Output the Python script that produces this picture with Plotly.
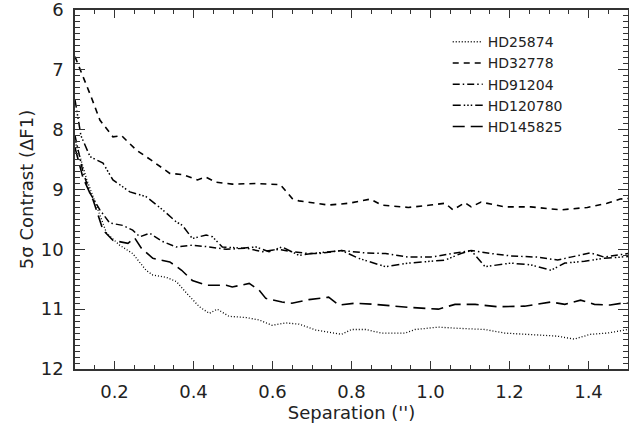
import plotly.graph_objects as go

# ---- data ----
names = ["HD25874", "HD32778", "HD91204", "HD120780", "HD145825"]

x_hd25874 = [0.1, 0.115, 0.13, 0.155, 0.18, 0.213, 0.246, 0.28, 0.297, 0.332, 0.357, 0.382, 0.415, 0.44, 0.46,
             0.49, 0.533, 0.566, 0.599, 0.634, 0.667, 0.71, 0.775, 0.8, 0.836, 0.876, 0.936, 0.961, 1.02, 1.07,
             1.138, 1.188, 1.254, 1.32, 1.364, 1.405, 1.448, 1.485, 1.5]
y_hd25874 = [8.2, 8.5, 8.84, 9.29, 9.73, 9.93, 10.07, 10.35, 10.43, 10.47, 10.54, 10.73, 10.96, 11.07, 11.0,
             11.12, 11.14, 11.18, 11.27, 11.23, 11.25, 11.35, 11.42, 11.34, 11.34, 11.4, 11.4, 11.34, 11.3, 11.32,
             11.34, 11.4, 11.42, 11.45, 11.5, 11.42, 11.4, 11.35, 11.34]

x_hd32778 = [0.1, 0.121, 0.142, 0.163, 0.196, 0.218, 0.255, 0.293, 0.34, 0.372, 0.41, 0.43, 0.458, 0.498, 0.558,
             0.62, 0.65, 0.667, 0.742, 0.793, 0.848, 0.876, 0.944, 1.0, 1.037, 1.057, 1.087, 1.103, 1.128, 1.188,
             1.254, 1.33, 1.397, 1.447, 1.48, 1.5]
y_hd32778 = [6.78, 7.11, 7.47, 7.84, 8.12, 8.1, 8.34, 8.51, 8.73, 8.75, 8.84, 8.79, 8.88, 8.91, 8.9,
             8.92, 9.15, 9.19, 9.26, 9.23, 9.16, 9.26, 9.3, 9.26, 9.23, 9.34, 9.22, 9.29, 9.21, 9.29,
             9.29, 9.34, 9.3, 9.23, 9.16, 9.15]

x_hd91204 = [0.1, 0.12, 0.138, 0.163, 0.188, 0.221, 0.246, 0.264, 0.289, 0.322, 0.356, 0.397, 0.44, 0.483,
             0.533, 0.574, 0.616, 0.649, 0.692, 0.717, 0.775, 0.836, 0.886, 0.944, 1.0, 1.052, 1.103, 1.153,
             1.203, 1.271, 1.322, 1.355, 1.405, 1.44, 1.485, 1.5]
y_hd91204 = [8.1, 8.7, 9.06, 9.34, 9.56, 9.6, 9.68, 9.79, 9.73, 9.87, 9.96, 9.93, 9.96, 10.0,
             9.98, 10.04, 10.0, 10.04, 10.07, 10.07, 10.02, 10.06, 10.07, 10.13, 10.13, 10.07, 10.02, 10.07,
             10.11, 10.13, 10.18, 10.13, 10.06, 10.13, 10.08, 10.07]

x_hd120780 = [0.1, 0.115, 0.138, 0.171, 0.196, 0.239, 0.28, 0.322, 0.356, 0.372, 0.397, 0.432, 0.448, 0.473,
              0.523, 0.558, 0.591, 0.624, 0.667, 0.7, 0.775, 0.818, 0.886, 0.944, 1.0, 1.037, 1.077, 1.103,
              1.138, 1.203, 1.254, 1.305, 1.34, 1.39, 1.44, 1.485, 1.5]
y_hd120780 = [7.5, 8.1, 8.45, 8.56, 8.84, 9.04, 9.12, 9.34, 9.54, 9.6, 9.82, 9.76, 9.79, 9.96,
              9.98, 9.96, 10.04, 9.96, 10.1, 10.07, 10.02, 10.15, 10.29, 10.23, 10.2, 10.18, 10.07, 10.02,
              10.29, 10.23, 10.26, 10.35, 10.23, 10.2, 10.15, 10.13, 10.12]

x_hd145825 = [0.1, 0.12, 0.146, 0.171, 0.196, 0.234, 0.251, 0.268, 0.297, 0.34, 0.37, 0.397, 0.432, 0.483,
              0.498, 0.541, 0.566, 0.583, 0.624, 0.649, 0.692, 0.742, 0.768, 0.81, 0.86, 0.944, 1.02, 1.062,
              1.113, 1.17, 1.238, 1.305, 1.34, 1.38, 1.415, 1.455, 1.485, 1.5]
y_hd145825 = [8.3, 8.8, 9.18, 9.68, 9.85, 9.9, 9.81, 9.98, 10.15, 10.21, 10.35, 10.52, 10.6, 10.6,
              10.63, 10.57, 10.68, 10.82, 10.88, 10.9, 10.84, 10.8, 10.93, 10.9, 10.92, 10.97, 11.0, 10.92,
              10.92, 10.96, 10.95, 10.88, 10.92, 10.85, 10.92, 10.93, 10.9, 10.9]

xs = [x_hd25874, x_hd32778, x_hd91204, x_hd120780, x_hd145825]
ys = [y_hd25874, y_hd32778, y_hd91204, y_hd120780, y_hd145825]

# ---- styles ----
dashes = ["1px,2px", "6px,5px", "7px,3px,1.5px,3px", "8px,3px,1.5px,2px,1.5px,2px,1.5px,3px", "12px,6px"]
widths = [1.3, 1.6, 1.5, 1.5, 1.6]

fig = go.Figure()
for n, x, y, d, w in zip(names, xs, ys, dashes, widths):
    fig.add_trace(go.Scatter(x=x, y=y, mode="lines", name=n,
                             line=dict(color="black", width=w, dash=d)))

font_family = "DejaVu Sans"
axis_common = dict(
    showline=True, linecolor="#333", linewidth=1.5, mirror="allticks",
    ticks="inside", tickcolor="#333", showgrid=False, zeroline=False,
    tickfont=dict(family=font_family, size=18, color="#222"),
    automargin=False, ticklabeloverflow="allow",
)

fig.update_xaxes(range=[0.1, 1.5], tick0=0.2, dtick=0.2, tickformat=".1f", ticklen=8, tickwidth=1.2,
                 ticklabelstandoff=6,
                 minor=dict(ticks="inside", ticklen=4, dtick=0.05, tick0=0.0, tickcolor="#333", tickwidth=1),
                 title=dict(text="Separation ('')", font=dict(family=font_family, size=18, color="#222"),
                            standoff=0),
                 **axis_common)
fig.update_yaxes(range=[12, 6], dtick=1, ticklen=10, tickwidth=1.2,
                 ticklabelstandoff=6,
                 minor=dict(ticks="inside", ticklen=5, dtick=0.1, tickcolor="#333", tickwidth=1),
                 title=dict(text="5σ Contrast (ΔF1)", font=dict(family=font_family, size=18, color="#222"),
                            standoff=2),
                 **axis_common)

fig.update_layout(
    width=629, height=426,
    margin=dict(l=75, r=1, t=10, b=57),
    paper_bgcolor="white", plot_bgcolor="white",
    showlegend=True,
    legend=dict(x=0.674, y=0.955, xanchor="left", yanchor="top", bgcolor="rgba(0,0,0,0)",
                font=dict(family=font_family, size=14, color="#222"), tracegroupgap=0,
                itemwidth=30),
)

fig.write_html("out.html", config={"displayModeBar": False},
               post_script="document.body.style.margin='0';")
